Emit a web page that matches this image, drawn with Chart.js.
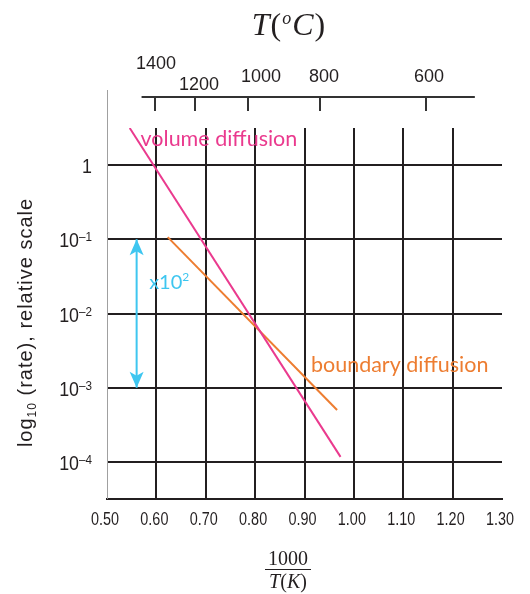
<html>

<head>
    <title>Diffusion rates</title>
    <style>
        html,
        body {
            margin: 0;
            padding: 0;
            background: #fff;
        }
    </style>
</head>

<body>
    <canvas id="chart" width="530" height="594"></canvas>

    <script src="https://cdn.jsdelivr.net/npm/chart.js@4"></script>
    <script>
        // x axis is 1000/T(K), y axis is the rate on a log scale
        const xTicks = [0.5, 0.6, 0.7, 0.8, 0.9, 1.0, 1.1, 1.2, 1.3]
        const yTicks = [1e-4, 1e-3, 1e-2, 1e-1, 1]
        const tempsC = [1400, 1200, 1000, 800, 600]

        const volumeX = [0.546, 0.973]
        const volumeY = [3.16, 1.17e-4]
        const boundaryX = [0.623, 0.966]
        const boundaryY = [0.107, 5.0e-4]
        const arrowX = [0.56, 0.56]
        const arrowY = [0.1, 0.001]

        const pink = '#ea3a8e'
        const orange = '#ed7d31'
        const cyan = '#3ec6f0'
        const ink = '#231f20'

        // nudges for the top axis labels, in pixels [dx, dy]
        const topLabelShift = {1400: [1, -13], 1200: [4, 8], 1000: [13, 0], 800: [4, 0], 600: [3, 0]}

        function pts(xs, ys) {
            return xs.map((x, i) => ({x: x, y: ys[i]}))
        }

        function drawPieces(ctx, pieces, cx, baseY) {
            // pieces: [text, font, dy]
            let total = 0
            pieces.forEach(p => { ctx.font = p[1]; total += ctx.measureText(p[0]).width })
            let x = cx - total / 2
            ctx.textAlign = 'left'
            ctx.textBaseline = 'alphabetic'
            pieces.forEach(p => {
                ctx.font = p[1]
                ctx.fillText(p[0], x, baseY + p[2])
                x += ctx.measureText(p[0]).width
            })
        }

        // condensed text: squeeze horizontally around the anchor
        function narrowText(ctx, txt, x, y, sx) {
            ctx.save()
            ctx.translate(x, y)
            ctx.scale(sx, 1)
            ctx.fillText(txt, 0, 0)
            ctx.restore()
        }

        const decor = {
            id: 'decor',
            afterDraw(chart) {
                const ctx = chart.ctx
                const a = chart.chartArea
                const xs = chart.scales.x
                const ys = chart.scales.y
                ctx.save()

                // thin left axis, runs above the grid
                ctx.strokeStyle = '#a0a0a0'
                ctx.lineWidth = 1
                ctx.beginPath()
                ctx.moveTo(Math.round(a.left) + 0.5, a.top - 38)
                ctx.lineTo(Math.round(a.left) + 0.5, a.bottom)
                ctx.stroke()

                // x tick labels, condensed
                ctx.fillStyle = ink
                ctx.font = '18px "Liberation Sans"'
                ctx.textAlign = 'center'
                ctx.textBaseline = 'middle'
                xTicks.forEach(v => {
                    narrowText(ctx, v.toFixed(2), xs.getPixelForValue(v) - 2, a.bottom + 21, 0.8)
                })

                // y tick labels with superscripts
                yTicks.forEach(v => {
                    const py = ys.getPixelForValue(v)
                    const e = Math.round(Math.log10(v))
                    const right = a.left - 15
                    ctx.textAlign = 'right'
                    ctx.textBaseline = 'alphabetic'
                    if (e === 0) {
                        ctx.font = '21px "Liberation Sans"'
                        narrowText(ctx, '1', right, py + 8, 0.85)
                        return
                    }
                    ctx.font = '13px "Liberation Sans"'
                    const sup = '\u2013' + (-e)
                    const sw = ctx.measureText(sup).width * 0.9
                    narrowText(ctx, sup, right, py + 2, 0.9)
                    ctx.font = '21px "Liberation Sans"'
                    narrowText(ctx, '10', right - sw, py + 8, 0.85)
                })

                // y title, rotated
                ctx.save()
                ctx.translate(32, (a.top + a.bottom) / 2 + 9)
                ctx.rotate(-Math.PI / 2)
                ctx.letterSpacing = '1px'
                drawPieces(ctx, [
                    ['log', '20px "Liberation Sans"', 0],
                    ['10', '12px "Liberation Sans"', 4],
                    [' (rate), relative scale', '20px "Liberation Sans"', 0]
                ], 0, 0)
                ctx.restore()

                // top temperature axis, placed through the 1000/T scale
                const axisY = a.top - 31
                ctx.strokeStyle = '#333'
                ctx.lineWidth = 2
                ctx.beginPath()
                ctx.moveTo(xs.getPixelForValue(0.57), axisY)
                ctx.lineTo(xs.getPixelForValue(1.245), axisY)
                ctx.stroke()
                ctx.font = '18px "Liberation Sans"'
                ctx.textAlign = 'center'
                ctx.textBaseline = 'middle'
                ctx.fillStyle = ink
                tempsC.forEach(t => {
                    const px = Math.round(xs.getPixelForValue(1000 / (t + 273)))
                    ctx.beginPath()
                    ctx.moveTo(px, axisY)
                    ctx.lineTo(px, axisY + 14)
                    ctx.stroke()
                    const sh = topLabelShift[t] || [0, 0]
                    ctx.fillText(String(t), px + sh[0], axisY - 20 + sh[1])
                })

                // top title T(oC)
                ctx.fillStyle = ink
                ctx.save()
                ctx.letterSpacing = '1px'
                drawPieces(ctx, [
                    ['T', 'italic 32px "Liberation Serif"', 0],
                    ['(', '32px "Liberation Serif"', 0],
                    ['o', 'italic 18px "Liberation Serif"', -11],
                    ['C', 'italic 32px "Liberation Serif"', 0],
                    [')', '32px "Liberation Serif"', 0]
                ], 289, 35)
                ctx.restore()

                // bottom title 1000 / T(K)
                ctx.font = '20px "Liberation Serif"'
                ctx.textAlign = 'center'
                ctx.textBaseline = 'alphabetic'
                ctx.fillText('1000', 288, 565)
                ctx.strokeStyle = ink
                ctx.lineWidth = 1
                ctx.beginPath()
                ctx.moveTo(265, 569.5)
                ctx.lineTo(311, 569.5)
                ctx.stroke()
                drawPieces(ctx, [
                    ['T', 'italic 20px "Liberation Serif"', 0],
                    ['(', '20px "Liberation Serif"', 0],
                    ['K', 'italic 20px "Liberation Serif"', 0],
                    [')', '20px "Liberation Serif"', 0]
                ], 288, 588)

                // arrow heads on the x10^2 marker
                const am = chart.getDatasetMeta(2).data
                ctx.fillStyle = cyan
                const head = (px, py, dir) => {
                    ctx.beginPath()
                    ctx.moveTo(px, py)
                    ctx.lineTo(px - 7, py + dir * 16)
                    ctx.lineTo(px, py + dir * 12)
                    ctx.lineTo(px + 7, py + dir * 16)
                    ctx.closePath()
                    ctx.fill()
                }
                head(am[0].x, am[0].y, 1)
                head(am[1].x, am[1].y, -1)

                // in-plot labels
                ctx.textAlign = 'left'
                ctx.textBaseline = 'middle'
                ctx.font = '21.5px Lato'
                ctx.fillStyle = pink
                ctx.fillText('volume diffusion', xs.getPixelForValue(0.568), ys.getPixelForValue(Math.pow(10, 0.35)))
                ctx.fillStyle = orange
                ctx.fillText('boundary diffusion', xs.getPixelForValue(0.913), ys.getPixelForValue(Math.pow(10, -2.69)))
                ctx.fillStyle = cyan
                drawPieces(ctx, [
                    ['x10', '20px Lato', 0],
                    ['2', '12px Lato', -8]
                ], xs.getPixelForValue(0.626), ys.getPixelForValue(Math.pow(10, -1.58)) + 7)

                ctx.restore()
            }
        }

        const chart = new Chart(document.getElementById('chart').getContext('2d'), {
            type: 'line',

            data: {
                datasets: [{
                    label: 'volume diffusion',
                    data: pts(volumeX, volumeY),
                    borderColor: pink,
                    borderWidth: 2,
                    pointRadius: 0,
                    fill: false,
                }, {
                    label: 'boundary diffusion',
                    data: pts(boundaryX, boundaryY),
                    borderColor: orange,
                    borderWidth: 2,
                    pointRadius: 0,
                    fill: false,
                }, {
                    label: 'x10^2',
                    data: pts(arrowX, arrowY),
                    borderColor: cyan,
                    borderWidth: 2,
                    pointRadius: 0,
                    fill: false,
                }]
            },

            options: {
                responsive: false,
                animation: false,
                layout: {
                    padding: {top: 128, right: 28}
                },
                plugins: {
                    legend: {display: false},
                    tooltip: {enabled: false}
                },
                scales: {
                    x: {
                        type: 'linear',
                        min: 0.5,
                        max: 1.3,
                        afterBuildTicks: s => { s.ticks = xTicks.map(v => ({value: v})) },
                        afterFit: s => { s.height = 95 },
                        ticks: {display: false},
                        grid: {
                            color: c => (c.tick && (c.tick.value < 0.55 || c.tick.value > 1.25)) ? 'rgba(0,0,0,0)' : ink,
                            lineWidth: 2,
                            drawTicks: false
                        },
                        border: {color: ink, width: 2}
                    },
                    y: {
                        type: 'logarithmic',
                        min: Math.pow(10, -4.5),
                        max: Math.pow(10, 0.5),
                        afterBuildTicks: s => { s.ticks = yTicks.map(v => ({value: v})) },
                        afterFit: s => { s.width = 107 },
                        ticks: {display: false},
                        grid: {color: ink, lineWidth: 2, drawTicks: false},
                        border: {display: false}
                    }
                }
            },
            plugins: [decor]
        });
    </script>
</body>

</html>
